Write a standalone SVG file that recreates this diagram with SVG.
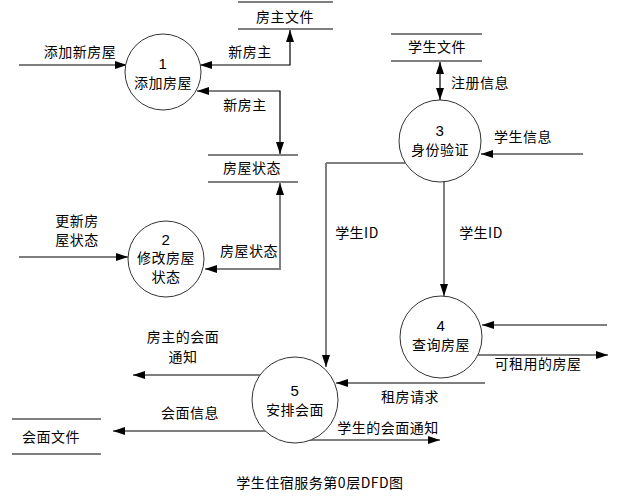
<svg xmlns="http://www.w3.org/2000/svg" width="624" height="500" viewBox="0 0 624 500">
<style>
text{font-family:"Noto Sans CJK SC","Liberation Sans",sans-serif;font-size:14px;fill:#000;text-anchor:middle;letter-spacing:0.5px}
.num{font-family:"Liberation Sans",sans-serif;font-size:15px}
.proc{fill:#fff;stroke:#333;stroke-width:1}
.g{fill:none;stroke:#7f7f7f;stroke-width:2}
.b{fill:none;stroke:#000;stroke-width:1.2}
.sg{stroke:#7f7f7f;stroke-width:2}
.sb{stroke:#000;stroke-width:1.2}
</style>
<defs>
<marker id="ah" viewBox="0 0 12 8" refX="12" refY="4" markerWidth="12" markerHeight="8" markerUnits="userSpaceOnUse" orient="auto-start-reverse">
<path d="M0,0 L12,4 L0,8 Z" fill="#000"/>
</marker>
</defs>
<rect width="624" height="500" fill="#fff"/>
<g id="connectors">
<path class="b" d="M19,65 H127" marker-end="url(#ah)"/>
<path class="b" d="M200,65 H290 V30" marker-start="url(#ah)" marker-end="url(#ah)"/>
<path class="b" d="M197,91 H280 V154" marker-start="url(#ah)" marker-end="url(#ah)"/>
<path class="g" d="M280,183 V269 H205" marker-start="url(#ah)" marker-end="url(#ah)"/>
<path class="g" d="M19,257 H128" marker-end="url(#ah)"/>
<path class="b" d="M440,62 V100" marker-start="url(#ah)" marker-end="url(#ah)"/>
<path class="g" d="M583,154 H481" marker-end="url(#ah)"/>
<path class="b" d="M405,163 H326"/>
<path class="g" d="M326,163 V367" marker-end="url(#ah)"/>
<path class="g" d="M444,182 V296" marker-end="url(#ah)"/>
<path class="g" d="M607,325 H482" marker-end="url(#ah)"/>
<path class="b" d="M478,355 H608" marker-end="url(#ah)"/>
<path class="b" d="M485,383 H336" marker-end="url(#ah)"/>
<path class="g" d="M260,375 H133" marker-end="url(#ah)"/>
<path class="g" d="M266,431 H113" marker-end="url(#ah)"/>
<path class="b" d="M310,440 H440" marker-end="url(#ah)"/>
</g>
<g id="labels">
<text x="80" y="57">添加新房屋</text>
<text x="250" y="57">新房主</text>
<text x="245" y="110">新房主</text>
<text x="77" y="226">更新房</text>
<text x="77" y="245">屋状态</text>
<text x="249" y="256">房屋状态</text>
<text x="480" y="88">注册信息</text>
<text x="523" y="142">学生信息</text>
<text x="357" y="238">学生ID</text>
<text x="481" y="238">学生ID</text>
<text x="538" y="369">可租用的房屋</text>
<text x="410" y="402">租房请求</text>
<text x="183" y="342">房主的会面</text>
<text x="183" y="362">通知</text>
<text x="190" y="418">会面信息</text>
<text x="388" y="433">学生的会面通知</text>
</g>
<g id="store-fangzhu">
<line class="sg" x1="238" y1="2" x2="333" y2="2"/>
<line class="sg" x1="238" y1="29" x2="333" y2="29"/>
<text x="285" y="22">房主文件</text>
</g>
<g id="store-fangwu">
<line class="sg" x1="208" y1="155" x2="298" y2="155"/>
<line class="sg" x1="208" y1="182" x2="298" y2="182"/>
<text x="252" y="173">房屋状态</text>
</g>
<g id="store-xuesheng">
<line class="sb" x1="391" y1="34" x2="482" y2="34"/>
<line class="sb" x1="391" y1="61" x2="482" y2="61"/>
<text x="437" y="52">学生文件</text>
</g>
<g id="store-huimian">
<line class="sg" x1="12" y1="419" x2="101" y2="419"/>
<line class="sb" x1="12" y1="454" x2="101" y2="454"/>
<text x="51" y="442">会面文件</text>
</g>
<g id="p1">
<circle class="proc" cx="163" cy="72" r="38"/>
<text class="num" x="163" y="69">1</text>
<text x="163" y="88">添加房屋</text>
</g>
<g id="p2">
<circle class="proc" cx="166" cy="259" r="38"/>
<text class="num" x="166" y="245">2</text>
<text x="166" y="263">修改房屋</text>
<text x="166" y="282">状态</text>
</g>
<g id="p3">
<circle class="proc" cx="440" cy="141" r="41"/>
<text class="num" x="440" y="136">3</text>
<text x="440" y="155">身份验证</text>
</g>
<g id="p4">
<circle class="proc" cx="441" cy="337" r="41"/>
<text class="num" x="441" y="331">4</text>
<text x="441" y="350">查询房屋</text>
</g>
<g id="p5">
<circle class="proc" cx="295" cy="400" r="43"/>
<text class="num" x="295" y="396">5</text>
<text x="295" y="415">安排会面</text>
</g>
<text x="320" y="488">学生住宿服务第0层DFD图</text>
</svg>
